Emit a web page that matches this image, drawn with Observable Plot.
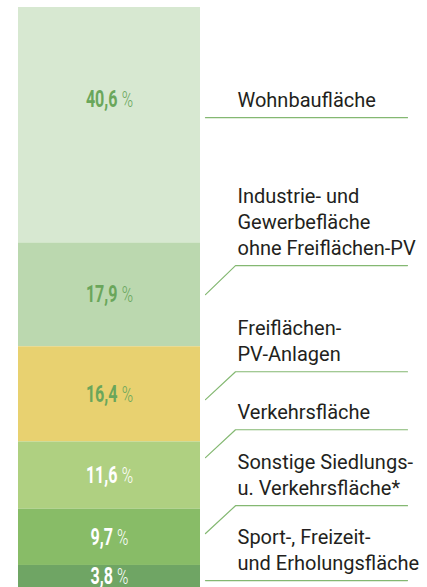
<!DOCTYPE html>
<html><head><meta charset="utf-8">
<script src="https://cdn.jsdelivr.net/npm/d3@7"></script>
<script src="https://cdn.jsdelivr.net/npm/@observablehq/plot@0.6"></script>
<style>
html,body{margin:0;padding:0;background:#fff;}
#chart svg{display:block;}
</style></head><body><div id="chart"></div>
<script>
// ---- data ----
const categories = ["Wohnbaufläche", "Industrie- und Gewerbefläche ohne Freiflächen-PV", "Freiflächen-PV-Anlagen", "Verkehrsfläche", "Sonstige Siedlungs- u. Verkehrsfläche*", "Sport-, Freizeit- und Erholungsfläche"];
const values = [40.6, 17.9, 16.4, 11.6, 9.7, 3.8];
const labelLines = [
  ["Wohnbaufläche"],
  ["Industrie- und", "Gewerbefläche", "ohne Freiflächen-PV"],
  ["Freiflächen-", "PV-Anlagen"],
  ["Verkehrsfläche"],
  ["Sonstige Siedlungs-", "u. Verkehrsfläche*"],
  ["Sport-, Freizeit-", "und Erholungsfläche"]
];
// leader-line anchors, in percent units along the bar (0 = top)
const ruleAt = [19.0, 44.5, 62.8, 72.8, 85.9, 98.8];
const elbowAt = [null, 49.5, 67.6, 77.6, 90.7, null];

// ---- styles ----
const colors = ["#d7e8d1", "#bbd8af", "#e8d170", "#afd081", "#88bc67", "#6fa564"];
const valueInk = ["#6aa65b", "#6aa65b", "#6aa65b", "#ffffff", "#ffffff", "#ffffff"];
const leaderColor = "#84b872";
const BAR = {left: 18, right: 200, top: 7, bottom: 587};
const LEAD = {start: 205, elbow: 235, end: 407, text: 237};
const px2x = p => (p - BAR.left) / (BAR.right - BAR.left);
const textFont = "Roboto, 'Liberation Sans', sans-serif";

let acc = 0;
const rows = values.map((v, i) => {
  const y1 = acc; acc += v;
  return {
    category: categories[i], value: v, y1, y2: acc,
    mid: (y1 + acc) / 2,
    color: colors[i], ink: valueInk[i],
    label: v.toFixed(1).replace(".", ","),
    text: labelLines[i].join("\n"),
    rule: ruleAt[i], elbow: elbowAt[i]
  };
});
// the first value label sits level with its category name
rows[0].labelY = rows[0].rule - 3.2;
rows.slice(1).forEach(r => r.labelY = r.mid);

const leaders = rows.flatMap(r => r.elbow == null
  ? [{k: r.category, x: px2x(LEAD.start), y: r.rule}, {k: r.category, x: px2x(LEAD.end), y: r.rule}]
  : [{k: r.category, x: px2x(LEAD.start), y: r.elbow}, {k: r.category, x: px2x(LEAD.elbow), y: r.rule}, {k: r.category, x: px2x(LEAD.end), y: r.rule}]);

const chart = Plot.plot({
  width: 427, height: 587, margin: 0,
  x: {domain: [0, 1], range: [BAR.left, BAR.right], axis: null},
  y: {domain: [0, 100], range: [BAR.top, BAR.bottom], axis: null},
  marks: [
    Plot.rect(rows, {x1: 0, x2: 1, y1: "y1", y2: "y2", fill: "color"}),
    Plot.line(leaders, {x: "x", y: "y", z: "k", stroke: leaderColor, strokeWidth: 1.2}),
    Plot.text(rows, {x: 0.5, y: "labelY", text: "label", fill: "ink", fontSize: 23, fontWeight: 700,
      fontFamily: textFont, textAnchor: "middle", lineAnchor: "middle"}),
    Plot.text(rows, {x: px2x(LEAD.text), y: "rule", text: "text", fill: "#231f20", fontSize: 20,
      fontFamily: textFont, textAnchor: "start", lineAnchor: "bottom", lineHeight: 26 / 20, dy: -11})
  ]
});
document.getElementById("chart").appendChild(chart);

// value labels: condensed figures followed by a lighter percent sign
const textGroups = chart.querySelectorAll('g[aria-label="text"]');
d3.select(textGroups[0]).selectAll("text").each(function () {
  const t = d3.select(this);
  t.append("tspan").attr("dx", 6).attr("font-weight", 300).attr("font-size", 22).text("%");
  let tr = t.attr("transform") || "";
  if (!/translate/.test(tr)) {
    const x = +(t.attr("x") || 0), y = +(t.attr("y") || 0);
    t.attr("x", null).attr("y", null);
    tr = `translate(${x},${y})`;
  }
  t.attr("transform", tr + " scale(0.7,1)");
});
</script></body></html>
